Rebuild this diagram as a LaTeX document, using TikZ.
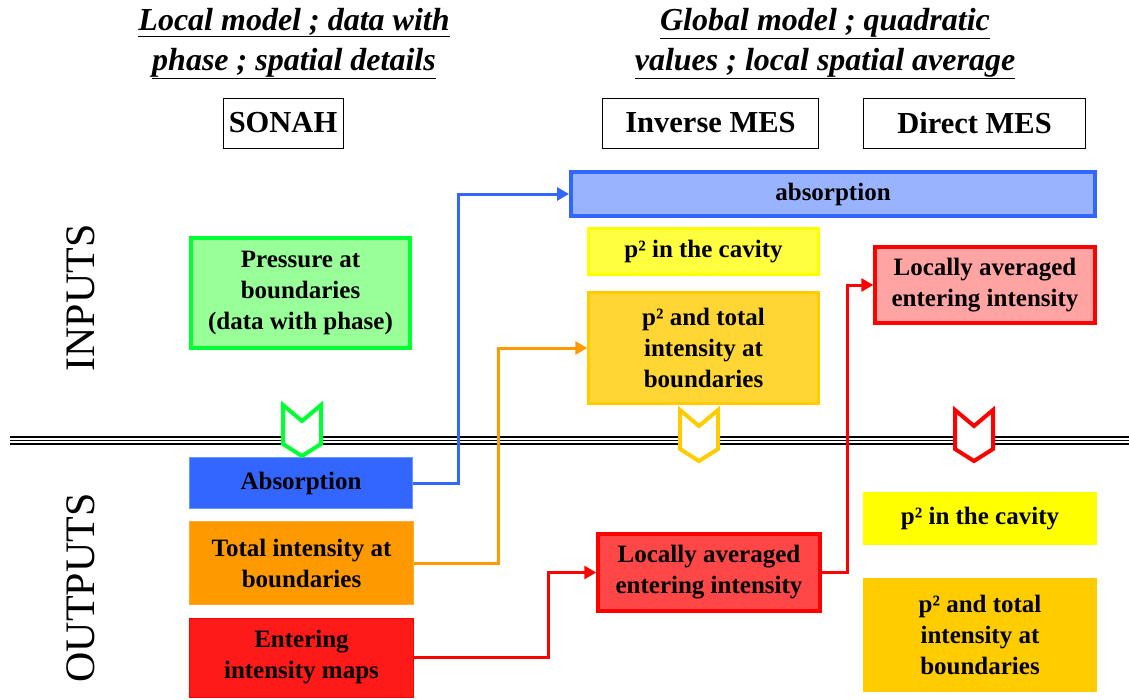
\documentclass[tikz,border=0pt]{standalone}
\usepackage{fontspec}
\setmainfont{Liberation Serif}
\usepackage{xcolor}
\definecolor{mgreen}{HTML}{00FF33}
\definecolor{mgreenfill}{HTML}{99FF99}
\definecolor{mblue}{HTML}{3366FF}
\definecolor{mbluefill}{HTML}{99B3FF}
\definecolor{mblueline}{HTML}{6699FF}
\definecolor{myellow}{HTML}{FFFF00}
\definecolor{myellowfill}{HTML}{FFFF40}
\definecolor{mgold}{HTML}{FFCC00}
\definecolor{mgoldfill}{HTML}{FFD633}
\definecolor{mred}{HTML}{FF0000}
\definecolor{mredfill}{HTML}{FF4747}
\definecolor{mentering}{HTML}{FF1A1A}
\definecolor{mpink}{HTML}{FFA3A3}
\definecolor{morange}{HTML}{FF9900}
\definecolor{morangeline}{HTML}{FFAA33}
\usepackage{tikz}
\usetikzlibrary{arrows.meta, positioning, calc}

\tikzset{
  heading/.style={anchor=base, align=center, inner sep=0pt,
    font=\bfseries\itshape\fontsize{32}{40}\selectfont},
  method/.style={draw=black, line width=0.8pt, inner sep=0pt, minimum height=50pt,
    font=\bfseries\fontsize{30.5}{34}\selectfont},
  side/.style={rotate=90, inner sep=0pt, font=\fontsize{42}{42}\selectfont},
  box/.style={align=center, inner sep=0pt, font=\bfseries\fontsize{25}{31}\selectfont},
  link/.style={line width=3pt, -{Triangle[length=12pt,width=13pt]}},
  chev/.style={line width=4pt, fill=white, line join=miter}
}

\begin{document}
\begin{tikzpicture}[x=1pt, y=-1pt]
  \useasboundingbox (0,0) rectangle (1129,699);

  \node[heading] (localhead) at (294,70) {\underline{Local model ; data with}\\\underline{phase ; spatial details}};
  \node[heading] (globalhead) at (825,70) {\underline{Global model ; quadratic}\\\underline{values ; local spatial average}};

  \node[method, minimum width=120pt] (sonah) at (283,123) {SONAH};
  \node[method, minimum width=216pt] (inversemes) at (710.5,123) {Inverse MES};
  \node[method, minimum width=222pt] (directmes) at (974.5,123) {Direct MES};

  \node[side] (inputs) at (81,298) {INPUTS};
  \node[side] (outputs) at (81,588) {OUTPUTS};

  % inputs
  \node[box, draw=mgreen, fill=mgreenfill, line width=4pt, minimum width=219pt, minimum height=110pt] (pressure) at (300.5,293) {Pressure at\\boundaries\\(data with phase)};
  \node[box, draw=mblue, fill=mbluefill, line width=4pt, minimum width=524pt, minimum height=44pt] (absorptionin) at (833,194) {absorption};
  \node[box, draw=myellow, fill=myellowfill, line width=2.5pt, minimum width=230pt, minimum height=46pt] (cavityin) at (703.5,251.5) {p² in the cavity};
  \node[box, draw=mgold, fill=mgoldfill, line width=2.5pt, minimum width=230pt, minimum height=111pt] (totalin) at (703.5,348) {p² and total\\intensity at\\boundaries};
  \node[box, draw=mred, fill=mpink, line width=3.5pt, minimum width=220pt, minimum height=76pt] (localin) at (985,285) {Locally averaged\\entering intensity};

  % outputs
  \node[box, draw=mblueline, fill=mblue, line width=1pt, minimum width=223pt, minimum height=51pt] (absorptionout) at (301,483) {Absorption};
  \node[box, draw=morangeline, fill=morange, line width=1pt, minimum width=224pt, minimum height=83pt] (totalout) at (301.5,563) {Total intensity at\\boundaries};
  \node[box, draw=mred, fill=mentering, line width=1pt, minimum width=224pt, minimum height=79pt] (enteringout) at (301.5,657.5) {Entering\\intensity maps};
  \node[box, draw=mred, fill=mredfill, line width=3.5pt, minimum width=222pt, minimum height=77pt] (localout) at (709,572.5) {Locally averaged\\entering intensity};
  \node[box, fill=myellow, minimum width=234pt, minimum height=53pt] (cavityout) at (980,518.5) {p² in the cavity};
  \node[box, fill=mgold, minimum width=234pt, minimum height=114pt] (totalout2) at (980,635) {p² and total\\intensity at\\boundaries};

  \foreach \ly in {437,440.5,444}
    \draw[line width=1.6pt] (10,\ly) -- (1129,\ly);

  \foreach \cx/\cy/\cc in {302/405/mgreen, 699/410/mgold, 974/410/mred}
    \draw[chev, draw=\cc] (\cx-19,\cy) -- (\cx,\cy+16) -- (\cx+19,\cy) -- (\cx+19,\cy+39) -- (\cx,\cy+51) -- (\cx-19,\cy+39) -- cycle;

  \draw[link, mblue] (absorptionout.east) -- ++(45,0) |- (absorptionin.west);
  \draw[link, morange] (totalout.east) -- ++(84,0) |- (totalin.west);
  \draw[link, mred] (enteringout.east) -- ++(134,0) |- (localout.west);
  \draw[link, mred] (localout.east) -- ++(26,0) |- (localin.west);
\end{tikzpicture}
\end{document}
